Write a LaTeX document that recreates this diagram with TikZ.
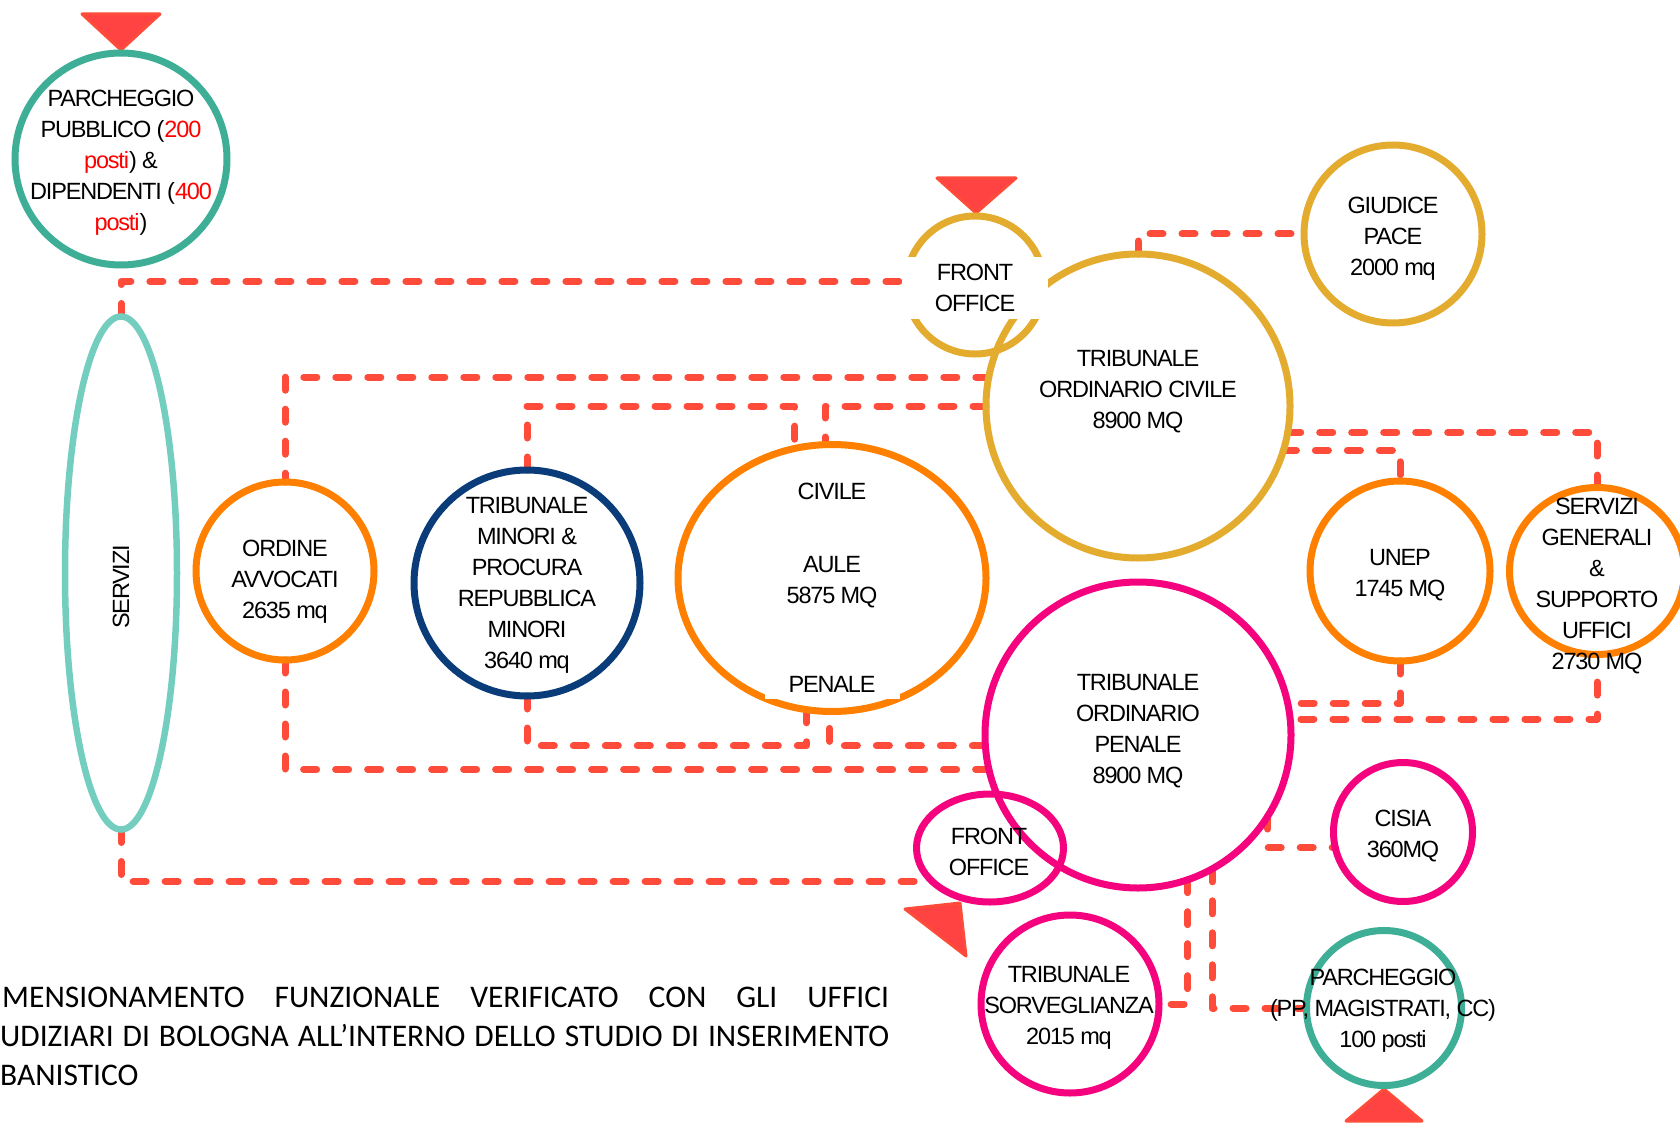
\documentclass[tikz,border=0pt]{standalone}
\usepackage{fontspec}
\setmainfont{Liberation Sans}[LetterSpace=-5]
\newfontfamily\calibfont{Carlito}
\usetikzlibrary{shapes.geometric}
\definecolor{cTeal}{HTML}{3FAE96}
\definecolor{cTealL}{HTML}{74CEC0}
\definecolor{cGold}{HTML}{E3AC2F}
\definecolor{cOrange}{HTML}{FF8000}
\definecolor{cNavy}{HTML}{0A3C7A}
\definecolor{cMag}{HTML}{F5037F}
\definecolor{cDash}{HTML}{FF4B3A}
\definecolor{cTri}{HTML}{FF4242}
\definecolor{cRed}{HTML}{FF0000}
\pgfdeclarelayer{bg}
\pgfsetlayers{bg,main}
\begin{document}
\begin{tikzpicture}[x=1pt,y=-1pt,
  ring/.style={draw, line width=7pt, inner sep=0pt, outer sep=0pt},
  rnd/.style={ring, circle, minimum size=#1},
  ell/.style={ring, ellipse},
  lnk/.style={draw=cDash, line width=7pt, dash pattern=on 13pt off 19pt, line cap=round, line join=round},
  txt/.style={align=center, inner sep=0pt, font=\fontsize{23.5}{31}\selectfont},
  btxt/.style={anchor=base west, inner sep=0pt, font=\calibfont\fontsize{31.5}{38.6}\selectfont},
  tri/.style={fill=cTri, draw=cDash, line width=3pt, line join=round}
]
\useasboundingbox (0,0) rectangle (1680,1123);
\clip (0,0) rectangle (1680,1123);

% triangles
\path[tri] (82,14) -- (160,14) -- (121,50) -- cycle;
\path[tri] (937,178) -- (1016,178) -- (976,213) -- cycle;
\path[tri] (905,909) -- (960,903) -- (966,956) -- cycle;
\path[tri] (1346,1121) -- (1422,1121) -- (1384,1089) -- cycle;

% shapes
\node[rnd=212pt, draw=cTeal] (pp) at (121,159) {};
\node[ell, draw=cTealL, line width=6.5pt, minimum width=112pt, minimum height=513pt] (serv) at (121,573) {};
\node[rnd=138pt, draw=cGold] (fo1) at (975,285) {};
\node[rnd=304pt, draw=cGold] (civ) at (1138,406) {};
\node[rnd=178pt, draw=cGold] (gdp) at (1393,234) {};
\node[rnd=178pt, draw=cOrange] (avv) at (285,571) {};
\node[rnd=226pt, draw=cNavy] (mnr) at (527,583) {};
\node[ell, draw=cOrange, minimum width=308pt, minimum height=267pt] (aule) at (832,578) {};
\node[rnd=306pt, draw=cMag] (pen) at (1138,735) {};
\node[ell, draw=cMag, minimum width=147pt, minimum height=108pt] (fo2) at (990,848) {};
\node[rnd=139pt, draw=cMag] (cis) at (1403,832) {};
\node[rnd=178pt, draw=cMag] (sor) at (1070,1004) {};
\node[rnd=155pt, draw=cTeal] (pk2) at (1384,1008) {};
\node[rnd=180pt, draw=cOrange] (unep) at (1400,571) {};
\node[ell, draw=cOrange, minimum width=175pt, minimum height=167pt] (sg) at (1597,571) {};

% texts
\node[txt] (ppT) at (121,163) {PARCHEGGIO\\PUBBLICO (\textcolor{cRed}{200}\\\textcolor{cRed}{posti}) \&\\DIPENDENTI (\textcolor{cRed}{400}\\\textcolor{cRed}{posti})};
\node[txt, rotate=90] (servT) at (121,587) {SERVIZI};
\node[txt, fill=white, minimum width=146pt, minimum height=62pt] (fo1T) at (975,288) {FRONT\\OFFICE};
\node[txt] (gdpT) at (1393,239) {GIUDICE\\PACE\\2000 mq};
\node[txt] (civT) at (1138,392) {TRIBUNALE\\ORDINARIO CIVILE\\8900 MQ};
\node[txt] (avvT) at (285,582) {ORDINE\\AVVOCATI\\2635 mq};
\node[txt] (mnrT) at (527,585) {TRIBUNALE\\MINORI \&\\PROCURA\\REPUBBLICA\\MINORI\\3640 mq};
\node[txt] (auleC) at (832,491) {CIVILE};
\node[txt] (auleM) at (832,582) {AULE\\5875 MQ};
\node[txt, fill=white, minimum width=135pt, minimum height=30pt] (auleP) at (832,684) {PENALE};
\node[txt] (penT) at (1138,731) {TRIBUNALE\\ORDINARIO\\PENALE\\8900 MQ};
\node[txt] (fo2T) at (989,852) {FRONT\\OFFICE};
\node[txt] (cisT) at (1403,836) {CISIA\\360MQ};
\node[txt] (sorT) at (1069,1008) {TRIBUNALE\\SORVEGLIANZA\\2015 mq};
\node[txt] (pk2T) at (1383,1011) {PARCHEGGIO\\(PP, MAGISTRATI, CC)\\100 posti};
\node[txt] (unepT) at (1400,575) {UNEP\\1745 MQ};
\node[txt] (sgT) at (1597,586) {SERVIZI\\GENERALI\\\&\\SUPPORTO\\UFFICI\\2730 MQ};

\node[btxt] (b1) at (2,1007) {\makebox[887pt][s]{MENSIONAMENTO FUNZIONALE VERIFICATO CON GLI UFFICI}};
\node[btxt] (b2) at (0,1046) {\makebox[889pt][s]{UDIZIARI DI BOLOGNA ALL’INTERNO DELLO STUDIO DI INSERIMENTO}};
\node[btxt] (b3) at (0,1085) {BANISTICO};

% connectors
\begin{pgfonlayer}{bg}
\draw[lnk] (serv.north) |- (fo1.177);
\draw[lnk] (serv.south) |- (fo2.210);
\draw[lnk] (civ.north) |- (gdp.west);
\draw[lnk] (civ.169) -| (avv.north);
\draw[lnk] (civ.west) -| (aule.93);
\draw[lnk] (mnr.north) -- (mnr.north |- civ.west) -| (aule.106);
\draw[lnk] (mnr.south) -- (mnr.south |- pen.184) -| (aule.259);
\draw[lnk] (pen.184) -| (aule.269);
\draw[lnk] (avv.south) |- (pen.193);
\draw[lnk] (civ.350) -| (sg.north);
\draw[lnk] (civ.343) -| (unep.north);
\draw[lnk] (unep.south) |- (pen.12);
\draw[lnk] ([yshift=-8pt]sgT.south) |- (pen.6);
\draw[lnk] (pen.328) |- (cis.193);
\draw[lnk] (pen.289) |- (sor.east);
\draw[lnk] (pen.299) |- (pk2.west);
\end{pgfonlayer}
\end{tikzpicture}
\end{document}
